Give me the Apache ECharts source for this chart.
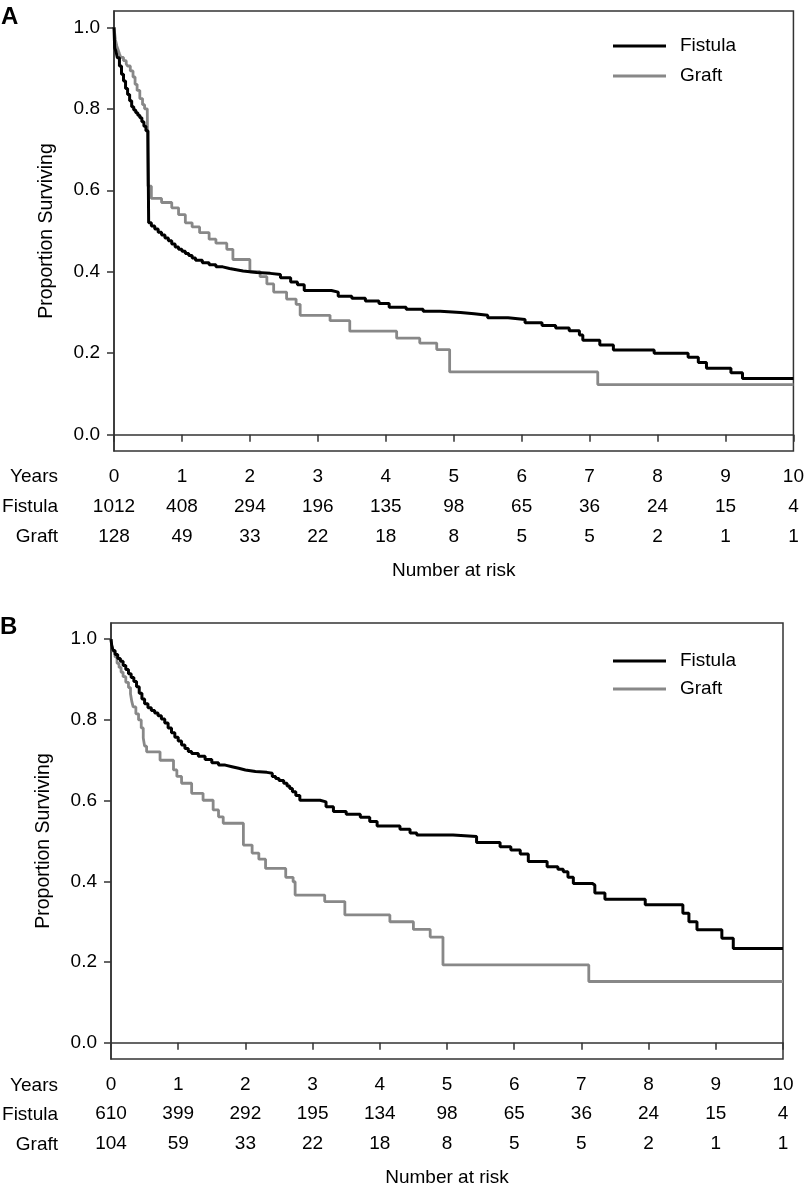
<!DOCTYPE html>
<html>
<head>
<meta charset="utf-8">
<script src="https://cdn.jsdelivr.net/npm/echarts@6/dist/echarts.min.js"></script>
<style>
html, body { margin: 0; padding: 0; background: #fff; }
#main { width: 807px; height: 1192px; }
</style>
</head>
<body>
<div id="main"></div>
<script>
// tick labels and number-at-risk rows
var years = [0, 1, 2, 3, 4, 5, 6, 7, 8, 9, 10];
var yTicks = [0, 0.2, 0.4, 0.6, 0.8, 1.0];
var riskFistulaA = [1012, 408, 294, 196, 135, 98, 65, 36, 24, 15, 4];
var riskGraftA = [128, 49, 33, 22, 18, 8, 5, 5, 2, 1, 1];
var riskFistulaB = [610, 399, 292, 195, 134, 98, 65, 36, 24, 15, 4];
var riskGraftB = [104, 59, 33, 22, 18, 8, 5, 5, 2, 1, 1];

// Kaplan-Meier curves, [years, proportion surviving]
var fistulaA = [
    [0, 1.0], [0.01, 0.95], [0.03, 0.94], [0.05, 0.925], [0.08, 0.905], [0.11, 0.885],
    [0.14, 0.868], [0.17, 0.85], [0.2, 0.835], [0.23, 0.82], [0.26, 0.805], [0.29, 0.797],
    [0.32, 0.79], [0.35, 0.784], [0.38, 0.778], [0.41, 0.768], [0.44, 0.757], [0.47, 0.746],
    [0.5, 0.735], [0.51, 0.52], [0.55, 0.512], [0.6, 0.505], [0.65, 0.497], [0.7, 0.49],
    [0.75, 0.483], [0.8, 0.476], [0.85, 0.468], [0.9, 0.461], [0.95, 0.455], [1.0, 0.45],
    [1.05, 0.445], [1.1, 0.44], [1.15, 0.434], [1.2, 0.428], [1.3, 0.422], [1.4, 0.417],
    [1.5, 0.412], [1.6, 0.408], [1.7, 0.405], [1.8, 0.402], [1.9, 0.40], [2.0, 0.398],
    [2.1, 0.396], [2.3, 0.393], [2.45, 0.385], [2.6, 0.375], [2.7, 0.368], [2.8, 0.354],
    [3.2, 0.35], [3.3, 0.34], [3.5, 0.335], [3.7, 0.328], [3.9, 0.322], [4.05, 0.313],
    [4.3, 0.308], [4.55, 0.303], [4.8, 0.30], [5.1, 0.297], [5.3, 0.293], [5.5, 0.287],
    [5.8, 0.283], [6.05, 0.275], [6.3, 0.268], [6.5, 0.262], [6.7, 0.255], [6.85, 0.245],
    [6.9, 0.232], [7.15, 0.22], [7.35, 0.208], [7.95, 0.20], [8.45, 0.19], [8.6, 0.177],
    [8.72, 0.163], [9.08, 0.152], [9.25, 0.138], [10, 0.138]
];
var graftA = [
    [0, 1.0], [0.02, 0.97], [0.04, 0.955], [0.06, 0.945], [0.08, 0.935], [0.1, 0.926],
    [0.14, 0.918], [0.18, 0.91], [0.2, 0.905], [0.24, 0.893], [0.28, 0.878], [0.31, 0.86],
    [0.34, 0.845], [0.38, 0.825], [0.42, 0.81], [0.45, 0.80], [0.49, 0.79], [0.5, 0.61],
    [0.55, 0.58], [0.7, 0.57], [0.85, 0.557], [0.95, 0.54], [1.05, 0.52], [1.15, 0.51],
    [1.26, 0.496], [1.4, 0.48], [1.5, 0.47], [1.66, 0.455], [1.75, 0.43], [2.0, 0.40],
    [2.15, 0.388], [2.25, 0.37], [2.35, 0.35], [2.54, 0.333], [2.68, 0.32], [2.74, 0.293],
    [3.18, 0.28], [3.47, 0.254], [4.16, 0.237], [4.5, 0.225], [4.75, 0.209], [4.94, 0.154],
    [7.12, 0.123], [10, 0.123]
];
var fistulaB = [
    [0, 1.0], [0.01, 0.985], [0.03, 0.972], [0.06, 0.962], [0.1, 0.952], [0.14, 0.945],
    [0.18, 0.935], [0.22, 0.925], [0.26, 0.914], [0.3, 0.905], [0.34, 0.895], [0.38, 0.882],
    [0.42, 0.866], [0.46, 0.852], [0.5, 0.84], [0.55, 0.83], [0.6, 0.823], [0.65, 0.817],
    [0.7, 0.81], [0.75, 0.802], [0.8, 0.792], [0.85, 0.78], [0.9, 0.768], [0.95, 0.757],
    [1.0, 0.748], [1.05, 0.738], [1.1, 0.729], [1.15, 0.722], [1.2, 0.717], [1.3, 0.71],
    [1.4, 0.702], [1.5, 0.694], [1.6, 0.688], [1.7, 0.684], [1.8, 0.68], [1.9, 0.676],
    [2.0, 0.672], [2.15, 0.67], [2.32, 0.668], [2.4, 0.66], [2.45, 0.655], [2.5, 0.65],
    [2.57, 0.643], [2.62, 0.636], [2.66, 0.63], [2.7, 0.622], [2.75, 0.613], [2.81, 0.601],
    [3.11, 0.597], [3.2, 0.585], [3.31, 0.573], [3.5, 0.566], [3.71, 0.559], [3.85, 0.548],
    [3.96, 0.537], [4.3, 0.529], [4.45, 0.52], [4.55, 0.515], [5.09, 0.511], [5.44, 0.496],
    [5.79, 0.486], [5.95, 0.478], [6.09, 0.468], [6.21, 0.449], [6.49, 0.436], [6.65, 0.43],
    [6.73, 0.424], [6.8, 0.41], [6.88, 0.395], [7.16, 0.391], [7.2, 0.371], [7.35, 0.356],
    [7.95, 0.342], [8.51, 0.321], [8.6, 0.30], [8.72, 0.28], [9.09, 0.259], [9.26, 0.234],
    [10, 0.234]
];
var graftB = [
    [0, 1.0], [0.01, 0.985], [0.03, 0.97], [0.06, 0.956], [0.09, 0.94], [0.12, 0.93],
    [0.15, 0.918], [0.18, 0.907], [0.22, 0.893], [0.26, 0.88], [0.29, 0.865], [0.31, 0.845],
    [0.33, 0.832], [0.37, 0.815], [0.41, 0.80], [0.45, 0.78], [0.48, 0.755], [0.5, 0.735],
    [0.53, 0.721], [0.73, 0.70], [0.93, 0.676], [0.98, 0.66], [1.05, 0.643], [1.2, 0.618],
    [1.37, 0.601], [1.52, 0.577], [1.6, 0.56], [1.67, 0.544], [1.97, 0.49], [2.1, 0.47],
    [2.2, 0.455], [2.3, 0.432], [2.6, 0.41], [2.71, 0.399], [2.74, 0.366], [3.18, 0.35],
    [3.48, 0.317], [4.15, 0.30], [4.5, 0.281], [4.75, 0.262], [4.94, 0.193], [7.11, 0.152],
    [10, 0.152]
];

var FONT = 'Liberation Sans, Arial, Helvetica, sans-serif';
var AXIS_COLOR = '#333';

function riskAxis(grid, offset, values, name) {
    return {
        type: 'value', gridIndex: grid, position: 'bottom', offset: offset,
        min: 0, max: 10, interval: 1,
        axisLine: { show: false }, axisTick: { show: false }, splitLine: { show: false },
        axisLabel: {
            margin: 16, fontSize: 19, color: '#000', fontFamily: FONT,
            showMinLabel: true, showMaxLabel: true,
            formatter: function (v) { return values[years.indexOf(v)]; }
        },
        name: name || '', nameLocation: 'middle', nameGap: 50,
        nameTextStyle: { fontSize: 19, color: '#000', fontFamily: FONT }
    };
}

function yearAxis(grid) {
    return {
        type: 'value', gridIndex: grid, position: 'bottom',
        min: 0, max: 10, interval: 1,
        axisLine: { show: true, lineStyle: { color: AXIS_COLOR, width: 1.5 } },
        axisTick: { show: true, length: 7, lineStyle: { color: AXIS_COLOR, width: 1.5 } },
        splitLine: { show: false },
        axisLabel: { margin: 16, fontSize: 19, color: '#000', fontFamily: FONT, showMinLabel: true, showMaxLabel: true }
    };
}

function propAxis(grid) {
    return {
        type: 'value', gridIndex: grid, min: -0.04, max: 1.04,
        axisLine: { show: true, lineStyle: { color: AXIS_COLOR, width: 1.5 } },
        axisTick: { show: true, length: 7, customValues: yTicks, lineStyle: { color: AXIS_COLOR, width: 1.5 } },
        splitLine: { show: false },
        axisLabel: {
            margin: 14, fontSize: 19, color: '#000', fontFamily: FONT, customValues: yTicks,
            formatter: function (v) { return v.toFixed(1); }
        },
        name: 'Proportion Surviving', nameLocation: 'middle', nameGap: 57,
        nameTextStyle: { fontSize: 19.5, color: '#000', fontFamily: FONT }
    };
}

function legend(top, gap) {
    return {
        orient: 'vertical', left: 613, top: top, padding: 0,
        itemWidth: 53, itemHeight: 3, itemGap: gap, icon: 'rect',
        data: ['Fistula', 'Graft'],
        textStyle: { fontSize: 19, lineHeight: 20, color: '#000', fontFamily: FONT, padding: [0, 0, 0, 9] }
    };
}

function curve(name, data, xi, yi) {
    var black = name === 'Fistula';
    return {
        name: name, type: 'line', step: 'end', symbol: 'none',
        xAxisIndex: xi, yAxisIndex: yi, data: data, z: black ? 3 : 2,
        itemStyle: { color: black ? '#000' : '#888' },
        lineStyle: { color: black ? '#000' : '#888', width: black ? 3 : 2.8 }
    };
}

function rowLabel(text, y) {
    return {
        type: 'text', right: 807 - 58, top: y - 11,
        style: { text: text, fontSize: 19, fontFamily: FONT, fill: '#000', textAlign: 'right' }
    };
}

var myChart = echarts.init(document.getElementById('main'));
myChart.setOption({
    animation: false,
    backgroundColor: '#fff',
    textStyle: { fontFamily: FONT },
    grid: [
        { left: 114, top: 11, width: 680, height: 440, show: true, borderColor: AXIS_COLOR, borderWidth: 1.5 },
        { left: 111, top: 623, width: 672, height: 436, show: true, borderColor: AXIS_COLOR, borderWidth: 1.5 }
    ],
    xAxis: [
        yearAxis(0),
        riskAxis(0, 30, riskFistulaA),
        riskAxis(0, 60, riskGraftA, 'Number at risk'),
        yearAxis(1),
        riskAxis(1, 29, riskFistulaB),
        riskAxis(1, 59, riskGraftB, 'Number at risk')
    ],
    yAxis: [propAxis(0), propAxis(1)],
    legend: [legend(36, 10), legend(651, 8)],
    graphic: [
        { type: 'text', left: 1, top: 5, style: { text: 'A', fontSize: 24, fontWeight: 'bold', fontFamily: FONT, fill: '#000' } },
        { type: 'text', left: 0, top: 615, style: { text: 'B', fontSize: 24, fontWeight: 'bold', fontFamily: FONT, fill: '#000' } },
        rowLabel('Years', 478), rowLabel('Fistula', 508), rowLabel('Graft', 538),
        rowLabel('Years', 1087), rowLabel('Fistula', 1116), rowLabel('Graft', 1146)
    ],
    series: [
        curve('Graft', graftA, 0, 0),
        curve('Fistula', fistulaA, 0, 0),
        curve('Graft', graftB, 3, 1),
        curve('Fistula', fistulaB, 3, 1)
    ]
});
</script>
</body>
</html>
